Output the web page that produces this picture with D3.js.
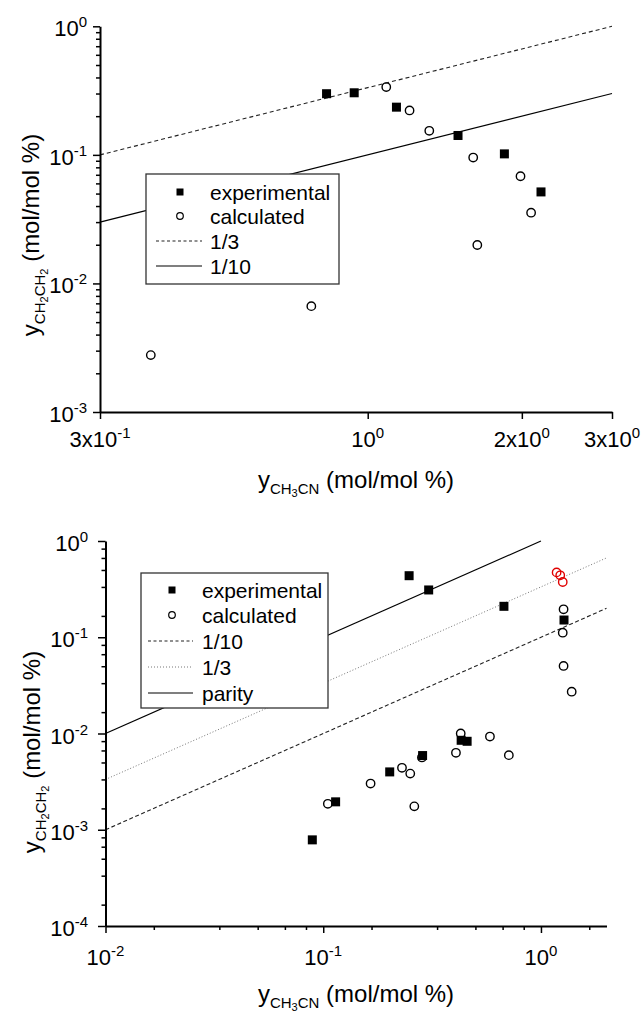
<!DOCTYPE html>
<html>
<head>
<meta charset="utf-8">
<script src="https://cdn.jsdelivr.net/npm/d3@7"></script>
<style>
  body { margin: 0; background: #fff; }
  svg { display: block; font-family: "Liberation Sans", Arial, sans-serif; }
</style>
</head>
<body>
<div id="viz"></div>
<script>
// ---- top panel data ----
let topExpX = [0.831, 0.941, 1.138, 1.501, 1.849, 2.18];
let topExpY = [0.299, 0.304, 0.235, 0.1415, 0.1018, 0.0515];
let topCalcX = [0.377, 0.776, 1.087, 1.207, 1.319, 1.607, 1.637, 1.988, 2.085];
let topCalcY = [0.00277, 0.00666, 0.337, 0.2216, 0.1538, 0.0953, 0.0199, 0.0682, 0.0355];
let topLineX = [0.3, 3];
let topThirdY = [0.1, 1];
let topTenthY = [0.03, 0.3];
let topXTicks = [0.3, 1, 2, 3];
let topXTickLabels = [["3x", "-1"], ["", "0"], ["2x", "0"], ["3x", "0"]];
let topYTicks = [1e-3, 1e-2, 1e-1, 1];
let topYTickLabels = ["-3", "-2", "-1", "0"];

// ---- bottom panel data ----
let botExpX = [0.0891, 0.114, 0.202, 0.248, 0.286, 0.305, 0.430, 0.458, 0.676, 1.276];
let botExpY = [0.000785, 0.00195, 0.00399, 0.436, 0.0059, 0.310, 0.0085, 0.0083, 0.2096, 0.151];
let botCalcX = [0.105, 0.165, 0.230, 0.251, 0.262, 0.284, 0.407, 0.428, 0.583, 0.712, 1.27, 1.259, 1.27, 1.384];
let botCalcY = [0.00186, 0.00302, 0.0044, 0.00383, 0.00175, 0.00564, 0.0063, 0.0100, 0.0093, 0.00596, 0.195, 0.1116, 0.0503, 0.0272];
let botRedX = [1.18, 1.226, 1.259];
let botRedY = [0.472, 0.44, 0.375];
let botLineX = [0.01, 2];
let botTenthY = [0.001, 0.2];
let botThirdY = [0.00333, 0.667];
let parityX = [0.01, 1];
let parityY = [0.01, 1];
let botXTicks = [0.01, 0.1, 1];
let botXTickLabels = ["-2", "-1", "0"];
let botYTicks = [1e-4, 1e-3, 1e-2, 1e-1, 1];
let botYTickLabels = ["-4", "-3", "-2", "-1", "0"];

let w = 644;
let h = 1014;

let viz = d3.select("#viz")
  .append("svg")
    .attr("width", w)
    .attr("height", h)
    .attr("viewBox", "0 0 " + w + " " + h);

viz.append("rect").attr("width", w).attr("height", h).attr("fill", "#fff");

function zip(xs, ys) {
  return xs.map((x, i) => ({x: x, y: ys[i]}));
}

// minor ticks placed like Origin does (decade split linearly in 6)
function sixthTicks(lo, hi) {
  let out = [];
  for (let p = Math.floor(Math.log10(lo)); p <= Math.ceil(Math.log10(hi)); p++) {
    for (let k = 1; k <= 5; k++) {
      let v = Math.pow(10, p) * k * 10 / 6;
      if (v > lo * 1.0001 && v < hi * 0.9999) out.push(v);
    }
  }
  return out;
}

function logMinor(lo, hi) {
  let out = [];
  for (let p = Math.floor(Math.log10(lo)); p <= Math.ceil(Math.log10(hi)); p++) {
    for (let k = 2; k <= 9; k++) {
      let v = k * Math.pow(10, p);
      if (v > lo && v < hi) out.push(v);
    }
  }
  return out;
}

function sciLabel(g, x, y, pre, exp, anchor) {
  let t = g.append("text")
    .attr("x", x)
    .attr("y", y)
    .attr("text-anchor", anchor)
    .attr("font-size", 22)
    .attr("fill", "#000");
  t.append("tspan").text(pre + "10");
  t.append("tspan").attr("font-size", 15).attr("dy", -9).text(exp);
}

// parts: [text, size, dy]
function richText(g, parts) {
  let t = g.append("text").attr("text-anchor", "middle").attr("fill", "#000");
  parts.forEach(p => {
    t.append("tspan").attr("font-size", p[1]).attr("dy", p[2]).text(p[0]);
  });
  return t;
}

let yTitleParts = [["y", 24, 0], ["CH", 15, 6], ["2", 11, 3], ["CH", 15, -3], ["2", 11, 3], [" (mol/mol %)", 24, -9]];
let xTitleParts = [["y", 24, 0], ["CH", 15, 6], ["3", 11, 3], ["CN", 15, -3], [" (mol/mol %)", 24, -6]];

function styleAxis(g, width) {
  g.selectAll(".domain").attr("stroke", "#000").attr("stroke-width", width);
  g.selectAll(".tick line").attr("stroke", "#000").attr("stroke-width", 1.5);
}

function drawPoints(g, xS, yS, expPts, calcPts) {
  g.selectAll(".calc").data(calcPts).enter().append("circle")
    .attr("class", "calc")
    .attr("cx", d => xS(d.x))
    .attr("cy", d => yS(d.y))
    .attr("r", 4.2)
    .attr("fill", "none")
    .attr("stroke", "#000")
    .attr("stroke-width", 1.4);
  g.selectAll(".exp").data(expPts).enter().append("rect")
    .attr("class", "exp")
    .attr("x", d => xS(d.x) - 4.5)
    .attr("y", d => yS(d.y) - 4.5)
    .attr("width", 9)
    .attr("height", 9)
    .attr("fill", "#000");
}

function drawLegend(g, x, y, bw, bh, rows, symX, lineX0, lineX1, textX) {
  g.append("rect")
    .attr("x", x).attr("y", y).attr("width", bw).attr("height", bh)
    .attr("fill", "#fff").attr("stroke", "#333").attr("stroke-width", 1.3);
  rows.forEach(r => {
    if (r.kind === "square") {
      g.append("rect").attr("x", symX - 3.5).attr("y", r.y - 3.5).attr("width", 7).attr("height", 7).attr("fill", "#000");
    } else if (r.kind === "circle") {
      g.append("circle").attr("cx", symX).attr("cy", r.y).attr("r", 3.3)
        .attr("fill", "none").attr("stroke", "#000").attr("stroke-width", 1.2);
    } else {
      g.append("line").attr("x1", lineX0).attr("x2", lineX1).attr("y1", r.y).attr("y2", r.y)
        .attr("stroke", r.color).attr("stroke-width", r.width).attr("stroke-dasharray", r.dash);
    }
    g.append("text").attr("x", textX).attr("y", r.y + 7.5)
      .attr("font-size", 21).attr("fill", "#000").text(r.label);
  });
}

let line = (xS, yS) => d3.line().x(d => xS(d.x)).y(d => yS(d.y));

// ================= top panel =================
let xT = d3.scaleLog().domain([0.3, 3]).range([100, 612]);
let yT = d3.scaleLog().domain([1e-3, 1]).range([412, 26.3]);
let topG = viz.append("g").attr("class", "topPanel");

topG.append("path").datum(zip(topLineX, topThirdY))
  .attr("d", line(xT, yT)).attr("fill", "none")
  .attr("stroke", "#222").attr("stroke-width", 1.1).attr("stroke-dasharray", "4,3");
topG.append("path").datum(zip(topLineX, topTenthY))
  .attr("d", line(xT, yT)).attr("fill", "none")
  .attr("stroke", "#000").attr("stroke-width", 1.2);

drawLegend(topG, 146, 174, 193, 110, [
  {label: "experimental", kind: "square", y: 192},
  {label: "calculated", kind: "circle", y: 216},
  {label: "1/3", kind: "line", y: 241, color: "#222", width: 1.1, dash: "3,2.5"},
  {label: "1/10", kind: "line", y: 266, color: "#000", width: 1.2, dash: null}
], 180, 156, 202, 210);

drawPoints(topG, xT, yT, zip(topExpX, topExpY), zip(topCalcX, topCalcY));

let topYMinor = topG.append("g").attr("transform", "translate(100,0)")
  .call(d3.axisLeft(yT).tickValues(logMinor(1e-3, 1)).tickSize(4).tickFormat(""));
topYMinor.select(".domain").remove();
styleAxis(topYMinor, 2);
let topYAxis = topG.append("g").attr("transform", "translate(100,0)")
  .call(d3.axisLeft(yT).tickValues(topYTicks).tickSize(7).tickSizeOuter(0).tickFormat(""));
styleAxis(topYAxis, 2);
let topXAxis = topG.append("g").attr("transform", "translate(0,412)")
  .call(d3.axisBottom(xT).tickValues(topXTicks).tickSize(7).tickSizeOuter(0).tickFormat(""));
styleAxis(topXAxis, 2);

topYTicks.forEach((v, i) => sciLabel(topG, 87, yT(v) + 10, "", topYTickLabels[i], "end"));
topXTicks.forEach((v, i) => sciLabel(topG, xT(v), 447, topXTickLabels[i][0], topXTickLabels[i][1], "middle"));

richText(topG, xTitleParts).attr("x", 356).attr("y", 488);
richText(topG.append("g").attr("transform", "translate(39,235) rotate(-90)"), yTitleParts);

// ================= bottom panel =================
let xB = d3.scaleLog().domain([0.01, 2]).range([105.5, 606.5]);
let yB = d3.scaleLog().domain([1e-4, 1]).range([926, 541]);
let botG = viz.append("g").attr("class", "bottomPanel");

botG.append("path").datum(zip(botLineX, botTenthY))
  .attr("d", line(xB, yB)).attr("fill", "none")
  .attr("stroke", "#222").attr("stroke-width", 1.1).attr("stroke-dasharray", "4,2.5");
botG.append("path").datum(zip(botLineX, botThirdY))
  .attr("d", line(xB, yB)).attr("fill", "none")
  .attr("stroke", "#777").attr("stroke-width", 1).attr("stroke-dasharray", "1,2");
botG.append("path").datum(zip(parityX, parityY))
  .attr("d", line(xB, yB)).attr("fill", "none")
  .attr("stroke", "#000").attr("stroke-width", 1.2);

drawLegend(botG, 141, 573, 187, 135, [
  {label: "experimental", kind: "square", y: 590},
  {label: "calculated", kind: "circle", y: 615},
  {label: "1/10", kind: "line", y: 641, color: "#222", width: 1.1, dash: "3,2.5"},
  {label: "1/3", kind: "line", y: 667, color: "#777", width: 1, dash: "1,2"},
  {label: "parity", kind: "line", y: 693, color: "#000", width: 1.2, dash: null}
], 172, 148, 193, 202);

drawPoints(botG, xB, yB, zip(botExpX, botExpY), zip(botCalcX, botCalcY));
botG.selectAll(".red").data(zip(botRedX, botRedY)).enter().append("circle")
  .attr("class", "red")
  .attr("cx", d => xB(d.x))
  .attr("cy", d => yB(d.y))
  .attr("r", 4.2)
  .attr("fill", "none")
  .attr("stroke", "#e00000")
  .attr("stroke-width", 1.4);

let botYMinor = botG.append("g").attr("transform", "translate(105.5,0)")
  .call(d3.axisLeft(yB).tickValues(sixthTicks(1e-4, 1)).tickSize(4).tickFormat(""));
botYMinor.select(".domain").remove();
styleAxis(botYMinor, 2);
let botYAxis = botG.append("g").attr("transform", "translate(105.5,0)")
  .call(d3.axisLeft(yB).tickValues(botYTicks).tickSize(7.5).tickSizeOuter(0).tickFormat(""));
styleAxis(botYAxis, 2);
let botXMinor = botG.append("g").attr("transform", "translate(0,926)")
  .call(d3.axisBottom(xB).tickValues(sixthTicks(0.01, 2)).tickSize(4).tickFormat(""));
botXMinor.select(".domain").remove();
styleAxis(botXMinor, 2);
let botXAxis = botG.append("g").attr("transform", "translate(0,926)")
  .call(d3.axisBottom(xB).tickValues(botXTicks).tickSize(7).tickSizeOuter(0).tickFormat(""));
styleAxis(botXAxis, 2);

botYTicks.forEach((v, i) => sciLabel(botG, 88, yB(v) + 10, "", botYTickLabels[i], "end"));
botXTicks.forEach((v, i) => sciLabel(botG, xB(v), 965, "", botXTickLabels[i], "middle"));

richText(botG, xTitleParts).attr("x", 356).attr("y", 1002);
richText(botG.append("g").attr("transform", "translate(40,752) rotate(-90)"), yTitleParts);
</script>
</body>
</html>
